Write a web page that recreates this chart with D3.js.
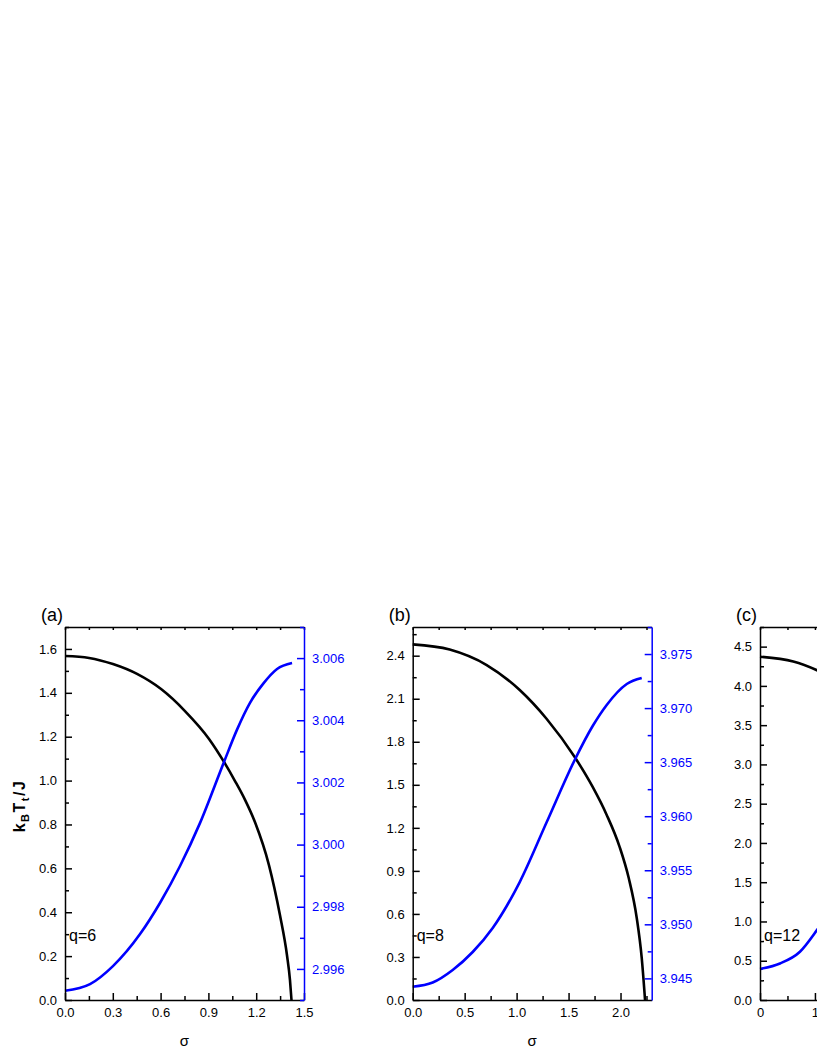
<!DOCTYPE html>
<html>
<head>
<meta charset="utf-8">
<script src="https://cdn.jsdelivr.net/npm/d3@7"></script>
<style>
  body { margin: 0; background: #fff; }
  svg { display: block; font-family: "Liberation Sans", Arial, sans-serif; }
</style>
</head>
<body>
<svg id="chart" width="817" height="1058"></svg>
<script>
// panel (a) q=6
const sigmaA = [0, 0.151, 0.301, 0.452, 0.603, 0.753, 0.904, 0.998, 1.067, 1.13, 1.192, 1.28, 1.349, 1.393, 1.412, 1.4215]
const tcA = [1.568, 1.559, 1.531, 1.486, 1.417, 1.317, 1.19, 1.085, 0.998, 0.912, 0.811, 0.615, 0.387, 0.205, 0.091, 0]
const sigmaA2 = [0, 0.157, 0.301, 0.471, 0.596, 0.722, 0.847, 0.998, 1.079, 1.161, 1.243, 1.331, 1.425]
const blueA = [2.9953, 2.99551, 2.99609, 2.99712, 2.99812, 2.99931, 3.00069, 3.00266, 3.00369, 3.00456, 3.00517, 3.00565, 3.00584]

// panel (b) q=8
const sigmaB = [0, 0.356, 0.712, 1.03, 1.29, 1.559, 1.732, 1.867, 1.992, 2.079, 2.156, 2.204, 2.236]
const tcB = [2.479, 2.443, 2.335, 2.161, 1.959, 1.694, 1.485, 1.29, 1.066, 0.85, 0.572, 0.293, 0]
const sigmaB2 = [0, 0.1925, 0.385, 0.5775, 0.77, 1.03, 1.29, 1.559, 1.732, 1.867, 2.06, 2.204]
const blueB = [3.94423, 3.94462, 3.94578, 3.94744, 3.94966, 3.95391, 3.95946, 3.9652, 3.96834, 3.97029, 3.97223, 3.97278]

// panel (c) q=12 (only the left part is visible)
const sigmaC = [0, 0.606, 1.036, 2.0, 3.0, 3.6, 3.9, 4.0]
const tcC = [4.372, 4.31, 4.2, 3.8, 2.9, 1.8, 0.8, 0]
const sigmaC2 = [0, 0.364, 0.727, 1.036, 2.0, 3.0, 3.9]
const blueC = [3.98625, 3.98647, 3.98694, 3.98781, 3.9915, 3.9962, 3.9985]

const panels = [
  {tag: "(a)", q: "q=6", left: 65, xDom: [0, 1.5], xMajor: 0.3, xFmt: ".1f",
   yDom: [0, 1.7], yMajor: 0.2, yFmt: ".1f", rDom: [2.995, 3.007], rMajor: 0.002, rFmt: ".3f",
   sx: sigmaA, sy: tcA, bx: sigmaA2, by: blueA, ylabel: true},
  {tag: "(b)", q: "q=8", left: 412.7, xDom: [0, 2.3], xMajor: 0.5, xFmt: ".1f",
   yDom: [0, 2.6], yMajor: 0.3, yFmt: ".1f", rDom: [3.943, 3.9775], rMajor: 0.005, rFmt: ".3f",
   sx: sigmaB, sy: tcB, bx: sigmaB2, by: blueB},
  {tag: "(c)", q: "q=12", left: 760, xDom: [0, 4.35], xMajor: 1, xFmt: "d",
   yDom: [0, 4.75], yMajor: 0.5, yFmt: ".1f", rDom: [3.985, 4.0], rMajor: 0.005, rFmt: ".3f",
   sx: sigmaC, sy: tcC, bx: sigmaC2, by: blueC}
]

const plotTop = 627, plotBottom = 1000, w = 239
const blue = "#0000ff"
const svg = d3.select("#chart")

function steps(dom, step) {
  const out = []
  for (let i = 0; dom[0] + i * step <= dom[1] + 1e-9; i++) out.push(+(dom[0] + i * step).toFixed(6))
  return out
}

panels.forEach(p => {
  const g = svg.append("g").attr("transform", `translate(${p.left},0)`)
  const x = d3.scaleLinear().domain(p.xDom).range([0, w])
  const y = d3.scaleLinear().domain(p.yDom).range([plotBottom, plotTop])
  const yr = d3.scaleLinear().domain(p.rDom).range([plotBottom, plotTop])

  const xMaj = steps(p.xDom, p.xMajor)
  const xMin = steps(p.xDom, p.xMajor / 2).filter(v => !xMaj.some(m => Math.abs(m - v) < 1e-9))
  const yMaj = steps(p.yDom, p.yMajor)
  const yMin = steps(p.yDom, p.yMajor / 2).filter(v => !yMaj.some(m => Math.abs(m - v) < 1e-9))
  const rStart = Math.ceil(p.rDom[0] / p.rMajor - 1e-6) * p.rMajor
  const rMaj = steps([rStart, p.rDom[1]], p.rMajor)
  const rMin = steps([rStart - p.rMajor / 2, p.rDom[1]], p.rMajor / 2)
    .filter(v => v >= p.rDom[0] && !rMaj.some(m => Math.abs(m - v) < 1e-9))

  // curves
  const black = d3.line().x((d, i) => x(p.sx[i])).y(d => y(d)).curve(d3.curveMonotoneX)
  const blueLine = d3.line().x((d, i) => x(p.bx[i])).y(d => yr(d)).curve(d3.curveMonotoneX)
  g.append("path").attr("d", black(p.sy)).attr("fill", "none").attr("stroke", "#000").attr("stroke-width", 2.6)
  g.append("path").attr("d", blueLine(p.by)).attr("fill", "none").attr("stroke", blue).attr("stroke-width", 2.6)

  // bottom axis
  const bx = g.append("g").attr("transform", `translate(0,${plotBottom})`)
  bx.call(d3.axisBottom(x).tickValues(xMaj).tickFormat(d3.format(p.xFmt)).tickSize(-7).tickSizeOuter(0).tickPadding(8))
  bx.append("g").call(d3.axisBottom(x).tickValues(xMin).tickFormat("").tickSize(-4)).select(".domain").remove()
  // top axis
  const tx = g.append("g").attr("transform", `translate(0,${plotTop})`)
  tx.call(d3.axisTop(x).tickValues(xMaj.concat(xMin)).tickFormat("").tickSize(-3).tickSizeOuter(0))
  // left axis
  const lx = g.append("g")
  lx.call(d3.axisLeft(y).tickValues(yMaj).tickFormat(d3.format(p.yFmt)).tickSize(-7).tickSizeOuter(0).tickPadding(8))
  lx.append("g").call(d3.axisLeft(y).tickValues(yMin).tickFormat("").tickSize(-4)).select(".domain").remove()
  // right axis (blue)
  const rx = g.append("g").attr("transform", `translate(${w},0)`)
  rx.call(d3.axisRight(yr).tickValues(rMaj).tickFormat(d3.format(p.rFmt)).tickSize(-7).tickSizeOuter(0).tickPadding(8))
  rx.append("g").call(d3.axisRight(yr).tickValues(rMin).tickFormat("").tickSize(-4)).select(".domain").remove()

  g.selectAll(".tick text").attr("font-size", 13).attr("font-family", "Liberation Sans, Arial, sans-serif")
  g.selectAll(".domain, .tick line").attr("stroke-width", 1.5)
  rx.selectAll(".domain, .tick line").attr("stroke", blue)
  rx.selectAll(".tick text").attr("fill", blue)

  g.append("text").attr("x", -24).attr("y", 621).attr("font-size", 18).text(p.tag)
  g.append("text").attr("x", 4).attr("y", 941).attr("font-size", 16).text(p.q)
  g.append("text").attr("x", w / 2).attr("y", 1046).attr("text-anchor", "middle").attr("font-size", 15).text("σ")

  if (p.ylabel) {
    const t = svg.append("text").attr("transform", "translate(25,806) rotate(-90)")
      .attr("text-anchor", "middle").attr("font-size", 16).attr("font-weight", "bold")
      .attr("letter-spacing", 1.5)
    t.append("tspan").text("k")
    t.append("tspan").attr("font-size", 11).attr("dy", 4).text("B")
    t.append("tspan").attr("dy", -4).text("T")
    t.append("tspan").attr("font-size", 11).attr("dy", 4).text("t")
    t.append("tspan").attr("dy", -4).text("/J")
  }
})
</script>
</body>
</html>
